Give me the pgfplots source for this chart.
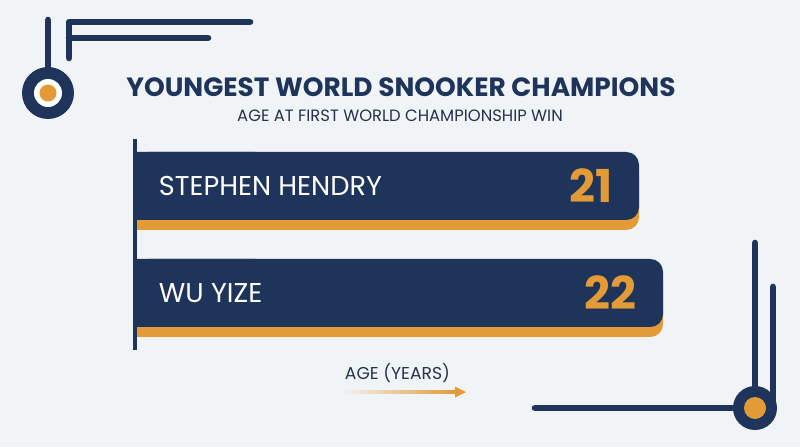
\documentclass[border=0pt]{standalone}
\usepackage{pgfplots}
\pgfplotsset{compat=1.18}
\usepackage{fontspec}
\setmainfont{Poppins}
\definecolor{navy}{HTML}{1F345A}
\definecolor{gold}{HTML}{E39B37}
\definecolor{bg}{HTML}{F1F4F7}
\definecolor{subtxt}{HTML}{26324C}
\pgfdeclarelayer{background}
\pgfsetlayers{background,main}
\begin{document}
\begin{tikzpicture}[x=0.75pt,y=0.75pt]
% axis
\begin{axis}[
  scale only axis, width=450pt, height=158.25pt,
  xmin=0, xmax=25, ymin=-0.533, ymax=1.439,
  axis x line=none, axis y line*=left,
  y axis line style={navy, line width=2.6pt, -},
  ytick={0,1}, yticklabels={WU YIZE,STEPHEN HENDRY},
  major tick length=0pt,
  yticklabel style={anchor=west, inner sep=0pt, xshift=17.7pt, text=white, font=\fontsize{20.4}{22}\selectfont},
  /pgf/number format/assume math mode=true,
  axis on top,
  clip=false,
]
\coordinate (axsw) at (rel axis cs:0,0);
\addplot[xbar, fill=gold, draw=none, rounded corners=9.5pt, bar width=51pt, bar shift=-7.5pt] coordinates {(21,1) (22,0)};
\begin{scope}
\clip (axis cs:0,-1) rectangle (axis cs:5,2);
\addplot[xbar, fill=gold, draw=none, sharp corners, bar width=51pt, bar shift=-7.5pt] coordinates {(21,1) (22,0)};
\end{scope}
\addplot[xbar, fill=navy, draw=none, rounded corners=9.5pt, bar width=51pt, bar shift=0pt,
  point meta=x, nodes near coords,
  nodes near coords style={anchor=east, inner sep=0pt, xshift=-19.5pt, yshift=0.5pt, text=gold, font=\bfseries\fontsize{34}{38}\selectfont}] coordinates {(21,1) (22,0)};
\begin{scope}
\clip (axis cs:0,-1) rectangle (axis cs:5,2);
\addplot[xbar, fill=navy, draw=none, sharp corners, bar width=51pt, bar shift=0pt] coordinates {(21,1) (22,0)};
\end{scope}
\end{axis}
\begin{scope}[shift={(axsw)}]
\begin{scope}[shift={(-135,-97)}]
\begin{pgfonlayer}{background}
\fill[bg] (0,0) rectangle (800,447);
\end{pgfonlayer}
% top-left decoration
\begin{scope}[navy, line width=5pt, line cap=round, line join=round]
\draw (48,427) -- (48,372);
\draw (250,425) -- (69,425) -- (69,389);
\draw (69,409) -- (208,409);
\end{scope}
\fill[navy] (48,354) circle[radius=19.5pt];
\fill[white] (48,354) circle[radius=10.5pt];
\fill[gold] (48,354) circle[radius=6.4pt];
% bottom-right decoration
\begin{scope}[navy, line width=5pt, line cap=round, line join=round]
\draw (755,204) -- (755,39);
\draw (773,160) -- (773,42);
\draw (535,39) -- (755,39);
\end{scope}
\fill[navy] (755,39) circle[radius=16.5pt];
\fill[gold] (755,39) circle[radius=8.25pt];
% titles
\node[anchor=base, text=navy, font=\bfseries\fontsize{19.8}{22}\selectfont] at (401,350) {YOUNGEST WORLD SNOOKER CHAMPIONS};
\node[anchor=base, text=subtxt, font=\fontsize{12.3}{14}\selectfont] at (400,325) {AGE AT FIRST WORLD CHAMPIONSHIP WIN};
% axis label with arrow
\node[anchor=base, text=subtxt, font=\fontsize{12.9}{14}\selectfont] at (397.5,68) {AGE (YEARS)};
\shade[left color=bg, right color=gold] (340,53.5) rectangle (456,56.5);
\fill[gold] (455,60.5) -- (466,55) -- (455,49.5) -- cycle;
\end{scope}
\end{scope}
\end{tikzpicture}
\end{document}
